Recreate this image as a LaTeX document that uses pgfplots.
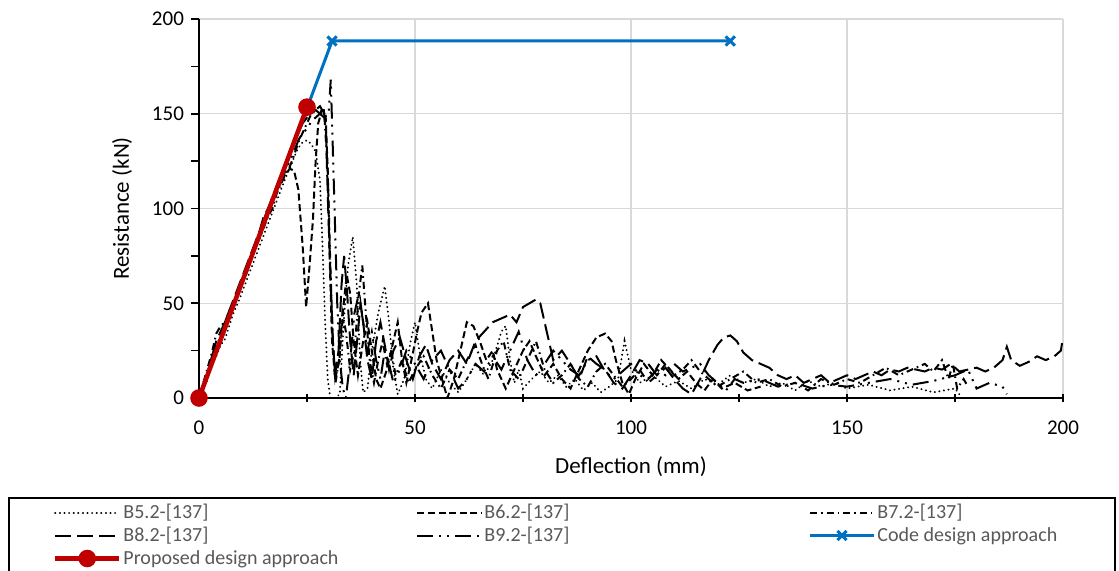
\documentclass[border=0pt]{standalone}
\usepackage{pgfplots}
\pgfplotsset{compat=1.18}
\usepackage{fontspec}
\setmainfont{Carlito}
\definecolor{codeblue}{HTML}{0070C0}
\definecolor{propred}{HTML}{C00000}
\definecolor{gridgray}{HTML}{D9D9D9}
\definecolor{leggray}{HTML}{595959}
\begin{document}
\begin{tikzpicture}
\begin{axis}[
  scale only axis, width=432pt, height=189.5pt,
  xmin=0, xmax=200, ymin=0, ymax=200,
  axis x line*=bottom, axis y line*=left,
  axis line style={line width=1pt, black},
  xtick={0,50,...,200}, ytick={0,50,...,200},
  minor xtick={25,75,125,175}, minor ytick={25,75,125,175},
  xtick align=center, ytick align=outside,
  major tick length=4pt, minor tick length=4pt,
  tick style={black, line width=0.8pt},
  grid=major, major grid style={gridgray, line width=0.6pt},
  /pgf/number format/assume math mode=true,
  tick label style={font=\fontsize{10.5}{12}\selectfont, black},
  xticklabel style={yshift=-6pt},
  xlabel={Deflection (mm)}, ylabel={Resistance (kN)},
  label style={font=\fontsize{11.5}{13}\selectfont},
  xlabel style={at={(axis description cs:0.5,-0.181)}, anchor=center},
  ylabel style={at={(axis description cs:-0.0891,0.5)}, anchor=center},
  legend image code/.code={\draw[mark repeat=2,mark phase=2] plot coordinates {(0pt,0pt)(16pt,0pt)(32pt,0pt)};},
  legend columns=3,
  legend style={at={(axis description cs:-0.2211,-0.2612)}, anchor=north west,
    draw=black, line width=1pt, inner xsep=22pt, inner ysep=2pt,
    font=\fontsize{10}{12}\selectfont, text=leggray, cells={anchor=west},
    nodes={inner xsep=1pt, inner ysep=0pt, text height=8pt, text depth=2.5pt},
    row sep=1pt},
]
% B5.2 dotted
\addplot[black, line width=1pt, line cap=round, dash pattern=on 0.1pt off 2.2pt] coordinates {
(0,0)(1,4)(2,10)(3,18)(4,22)(5,28)(6,31)(7,38)(8,45)(9,50)(10,56)(11,62)(12,68)(13,74)(14,80)(15,86)(16,92)(17,98)(18,104)(19,110)(20,116)(21,121)(22,127)(23,132)(24,135)(25,136)(26,134)(27,130)(28,115)(28.6,80)(29.2,40)(29.8,10)(30.4,0)(31.5,0)(32.6,2)(33.5,40)(34.5,70)(35.6,85)(36.5,60)(37.3,20)(38,3)(39,5)(40,25)(41.5,45)(43,59)(44,40)(45,15)(46,2)(47.5,10)(49,30)(50,40)(51,25)(52.5,10)(54,5)(56,15)(58,8)(60,3)(62,10)(64,18)(66,12)(68,20)(70,35)(71,38)(72,20)(73,8)(74,15)(75,5)(77,10)(79,14)(81,8)(83,12)(85,6)(87,10)(89,4)(91,8)(93,3)(95,6)(97,10)(98.5,30)(100,15)(102,8)(105,12)(108,6)(111,9)(114,5)(117,10)(120,7)(123,12)(126,8)(129,10)(132,6)(135,8)(138,4)(141,9)(144,6)(147,8)(150,5)(155,7)(160,4)(165,6)(170,3)(175,5)(176,2)};
\addlegendentry{\makebox[145.5pt][l]{B5.2-[137]}}
% B6.2 dashed
\addplot[black, line width=1pt, dash pattern=on 3.5pt off 1.8pt] coordinates {
(0,0)(1,6)(2,12)(3,20)(4,26)(5,30)(6,36)(7,42)(8,48)(9,54)(10,60)(11,68)(12,74)(13,80)(14,86)(15,94)(16,100)(17,105)(18,110)(19,115)(20,118)(21,121)(22,120)(23,110)(24,80)(24.8,48)(25.6,70)(26.4,95)(27,125)(27.6,145)(28.5,152)(29.3,150)(29.8,120)(30.3,70)(30.8,30)(31.5,10)(32.5,20)(33.5,50)(34.2,65)(35,55)(35.8,30)(36.8,12)(38,30)(39,40)(40,25)(41,10)(42,5)(43.5,15)(45,30)(46,40)(47,20)(48,8)(49,18)(50.5,35)(51.5,45)(53,50)(54,35)(55,20)(56.5,8)(57.5,0)(59,10)(61,30)(62,40)(63.5,38)(65,30)(66.5,20)(68,25)(69,15)(71,5)(73,15)(75,25)(76.5,30)(78,22)(80,12)(82,18)(84,10)(86,5)(88,15)(90,25)(92,32)(94,34)(95.5,30)(96.5,20)(98,8)(99.5,2)(101,10)(103,18)(105,12)(107,20)(109,15)(111,10)(113,14)(115,8)(117,4)(119,10)(121,5)(124,8)(127,4)(130,6)};
\addlegendentry{\makebox[161pt][l]{B6.2-[137]}}
% B7.2 dash dot
\addplot[black, line width=1pt, dash pattern=on 3.5pt off 2pt on 0.8pt off 2pt] coordinates {
(0,0)(1,8)(2,16)(3,24)(4,34)(5,38)(6,40)(7,46)(8,50)(9,55)(10,62)(11,66)(12,72)(13,80)(14,84)(15,90)(16,96)(17,100)(18,108)(19,113)(20,118)(21,122)(22,128)(23,135)(24,140)(25,145)(26,150)(27,152)(28,154)(29,150)(29.8,120)(30.4,70)(31,30)(31.6,8)(32.4,20)(33.2,45)(34,35)(35,15)(36,25)(37,55)(37.8,70)(38.6,45)(39.5,20)(40.5,8)(41.5,20)(42.5,30)(43.5,18)(44.5,25)(45.5,12)(47,20)(48.5,8)(50,15)(52,22)(54,12)(56,5)(58,15)(60,10)(62,20)(64,28)(65.5,18)(67,10)(69,25)(70.5,30)(72,15)(74,10)(76,20)(78,30)(80,15)(82,8)(84,12)(86,18)(88,10)(90,6)(92,14)(94,18)(96,12)(98,6)(100,10)(102,15)(104,8)(106,12)(108,18)(110,12)(112,15)(114,20)(116,14)(118,10)(120,6)(123,10)(126,14)(129,8)(132,10)(135,6)(138,8)(141,4)(144,10)(147,7)(150,10)(153,8)(156,12)(159,16)(162,12)(165,15)(168,18)(170,14)(172,20)(173.5,10)(174.5,18)(175.5,5)(177,10)(178,6)};
\addlegendentry{\makebox[96pt][l]{B7.2-[137]}}
% B8.2 long dash
\addplot[black, line width=1pt, dash pattern=on 8pt off 3pt] coordinates {
(0,0)(1,5)(2,12)(3,22)(4,30)(5,35)(6,40)(7,46)(8,52)(9,58)(10,64)(11,70)(12,76)(13,82)(14,88)(15,96)(16,100)(17,106)(18,112)(19,118)(20,124)(21,128)(22,134)(23,140)(24,145)(25,148)(26,150)(27,152)(28,150)(28.8,154)(29.4,140)(29.9,100)(30.5,60)(31,30)(31.5,12)(32.3,25)(33,60)(33.6,75)(34.3,55)(35,30)(35.8,12)(36.6,30)(37.4,50)(38,40)(39,20)(40,10)(41,30)(42,40)(43,28)(44,15)(45,25)(46.5,32)(48,20)(49.5,10)(51,22)(52.5,28)(54,18)(56,10)(58,20)(60,25)(62,18)(64,30)(66,35)(68,40)(70,42)(72,44)(73.5,40)(75,48)(76.5,50)(78,52)(79,50)(80,40)(81,30)(82,20)(84,25)(86,18)(88,10)(90,22)(92,18)(94,15)(96,8)(98,5)(100,12)(102,20)(104,18)(106,12)(108,16)(110,10)(112,5)(114,2)(116,10)(118,20)(120,28)(121.5,32)(123,33)(124.5,30)(126,24)(128,20)(130,18)(132,16)(134,12)(136,10)(138,12)(140,8)(142,10)(144,12)(146,8)(148,10)(150,12)(152,10)(154,12)(156,14)(158,12)(160,15)(162,14)(164,16)(166,15)(168,14)(170,16)(172,15)(174,18)(176,14)(178,15)(180,16)(182,14)(184,16)(186,20)(187,27)(188,20)(190,17)(192,19)(194,22)(196,20)(198,22)(199.5,25)(200,32)};
\addlegendentry{\makebox[145.5pt][l]{B8.2-[137]}}
% B9.2 long dash dot dot
\addplot[black, line width=1pt, dash pattern=on 8pt off 3pt on 1pt off 3pt on 1pt off 3pt] coordinates {
(0,0)(1,6)(2,14)(3,22)(4,28)(5,32)(6,38)(7,44)(8,48)(9,56)(10,62)(11,68)(12,74)(13,80)(14,86)(15,92)(16,98)(17,104)(18,108)(19,114)(20,120)(21,125)(22,130)(23,136)(24,140)(25,142)(26,146)(27,148)(28,150)(29,148)(30,150)(30.5,168)(31,130)(31.5,90)(32,50)(32.6,20)(33.3,5)(34,0)(35,20)(36,45)(37,55)(38,40)(39,25)(40,35)(41,20)(42,10)(43,25)(44,18)(45,8)(46.5,15)(48,25)(50,18)(52,10)(54,20)(56,25)(58,15)(60,5)(62,10)(64,18)(66,14)(68,22)(70,15)(72,25)(74,35)(76,20)(78,12)(80,18)(82,25)(84,20)(86,15)(88,12)(90,20)(92,22)(94,14)(96,10)(98,14)(100,18)(102,12)(104,10)(106,15)(108,12)(110,18)(112,14)(114,16)(116,18)(118,12)(120,8)(122,4)(124,10)(126,8)(130,10)(134,6)(138,8)(142,5)(146,7)(150,6)(155,8)(160,10)(165,7)(170,9)(175,12)(178,15)(180,5)(183,8)(186,6)(187,2)};
\addlegendentry{\makebox[161pt][l]{B9.2-[137]}}
% Code design approach
\addplot[codeblue, line width=1.5pt, mark=x, mark size=3.25pt, mark options={solid, line width=1.5pt}] coordinates {(0,0)(30.8,188.4)(123,188.4)};
\addlegendentry{\makebox[96pt][l]{Code design approach}}
% Proposed design approach
\addplot[propred, line width=2.25pt, mark=*, mark size=3.25pt, mark options={solid}] coordinates {(0,0)(25,153.5)};
\addlegendentry{\makebox[145.5pt][l]{Proposed design approach}}
\end{axis}
\pgfresetboundingbox
\path[use as bounding box] (-99.5pt,-86pt) rectangle (460pt,199pt);
\end{tikzpicture}
\end{document}
